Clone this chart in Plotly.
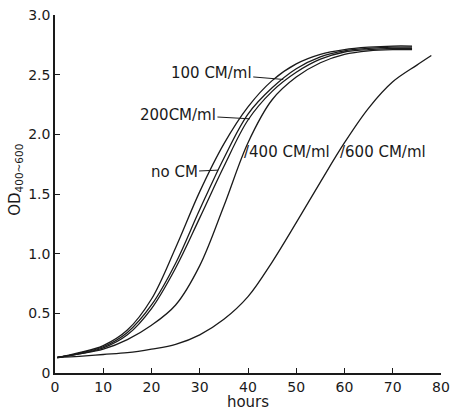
import plotly.graph_objects as go

# ---- data ----
hours = [0.5, 5, 10, 15, 20, 25, 30, 35, 40, 45, 50, 55, 60, 65, 70, 74]
od_a = [0.13, 0.17, 0.23, 0.36, 0.62, 1.05, 1.52, 1.92, 2.23, 2.45, 2.59, 2.67, 2.71, 2.73, 2.74, 2.74]
od_b = [0.13, 0.165, 0.22, 0.34, 0.57, 0.92, 1.37, 1.80, 2.17, 2.39, 2.55, 2.65, 2.70, 2.72, 2.73, 2.73]
od_c = [0.13, 0.16, 0.21, 0.32, 0.54, 0.88, 1.30, 1.73, 2.12, 2.36, 2.52, 2.63, 2.69, 2.71, 2.72, 2.72]
od_400 = [0.13, 0.16, 0.20, 0.28, 0.40, 0.57, 0.90, 1.40, 1.93, 2.29, 2.48, 2.60, 2.67, 2.70, 2.71, 2.71]
hours_600 = [0.5, 5, 10, 15, 20, 25, 30, 35, 40, 45, 50, 55, 60, 65, 70, 75, 78]
od_600 = [0.13, 0.14, 0.155, 0.17, 0.20, 0.24, 0.32, 0.45, 0.64, 0.93, 1.26, 1.60, 1.93, 2.22, 2.44, 2.58, 2.66]

x_ticks = [0, 10, 20, 30, 40, 50, 60, 70, 80]
y_ticks = [0, 0.5, 1.0, 1.5, 2.0, 2.5, 3.0]
y_tick_text = ["0", "0.5", "1.0", "1.5", "2.0", "2.5", "3.0"]

FONT = "DejaVu Sans"
INK = "#1a1a1a"

fig = go.Figure()
for xs, ys in [(hours, od_a), (hours, od_b), (hours, od_c), (hours, od_400), (hours_600, od_600)]:
    fig.add_trace(go.Scatter(x=xs, y=ys, mode="lines",
                             line=dict(color=INK, width=1.3, shape="spline", smoothing=1.0),
                             showlegend=False, hoverinfo="skip"))

ann_font = dict(family=FONT, size=15, color=INK)
annotations = [
    dict(x=47.3, y=2.46, text="100 CM/ml", showarrow=True, arrowhead=0, arrowwidth=1,
         arrowcolor=INK, ax=-72, ay=-6, font=ann_font),
    dict(x=40.4, y=2.13, text="200CM/ml", showarrow=True, arrowhead=0, arrowwidth=1,
         arrowcolor=INK, ax=-72, ay=-4, font=ann_font),
    dict(x=33.8, y=1.70, text="no CM", showarrow=True, arrowhead=0, arrowwidth=1,
         arrowcolor=INK, ax=-44, ay=2, font=ann_font),
    dict(x=38.8, y=1.85, text="/400 CM/ml", showarrow=False, xanchor="left", font=ann_font),
    dict(x=58.6, y=1.85, text="/600 CM/ml", showarrow=False, xanchor="left", font=ann_font),
]

fig.update_layout(
    width=451, height=411,
    margin=dict(l=55, r=10, t=15, b=38),
    paper_bgcolor="white", plot_bgcolor="white",
    font=dict(family=FONT, size=14, color=INK),
    annotations=annotations,
    xaxis=dict(range=[0, 80], tickvals=x_ticks, ticks="inside", ticklen=5, tickwidth=1.3,
               tickcolor=INK, showline=True, linecolor=INK, linewidth=1.5, showgrid=False,
               zeroline=False, automargin=False,
               tickfont=dict(family=FONT, size=14, color=INK),
               title=dict(text="hours", font=dict(family=FONT, size=15, color=INK), standoff=0)),
    yaxis=dict(range=[0, 3.0], tickvals=y_ticks, ticktext=y_tick_text, ticks="inside",
               ticklen=5, tickwidth=1.3, tickcolor=INK, showline=True, linecolor=INK,
               linewidth=1.5, showgrid=False, zeroline=False, automargin=False,
               tickfont=dict(family=FONT, size=14, color=INK),
               title=dict(text="&nbsp;&nbsp;&nbsp;&nbsp;&nbsp;&nbsp;OD<sub>400~600</sub>",
                          font=dict(family=FONT, size=15, color=INK), standoff=4)),
)

fig.write_html("out.html")
